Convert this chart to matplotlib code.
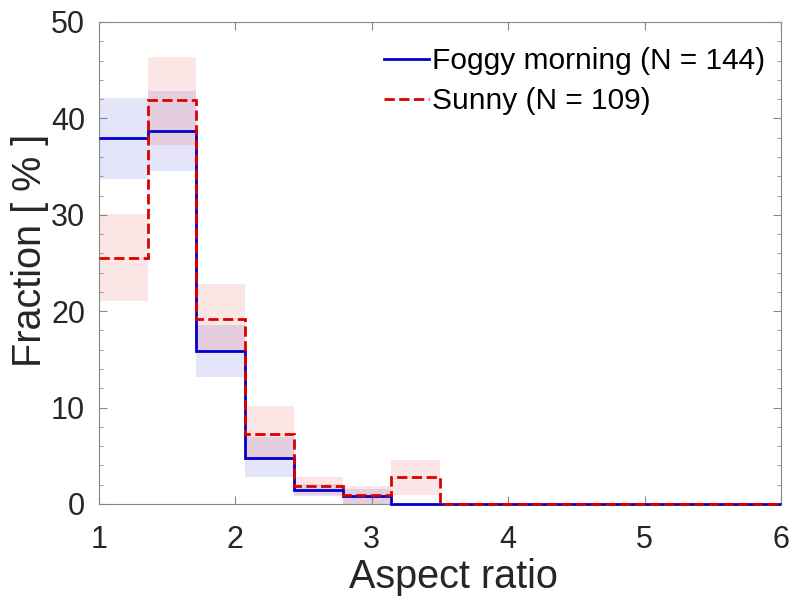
import numpy as np
import matplotlib.pyplot as plt

plt.rcParams['font.family'] = ['Liberation Sans', 'DejaVu Sans']

# bin edges of the aspect-ratio histogram (14 bins between 1 and 6)
edges = np.linspace(1, 6, 15)

# Foggy morning: fraction and shaded band
foggy = [38.0, 38.7, 15.9, 4.8, 1.45, 0.78, 0, 0, 0, 0, 0, 0, 0, 0]
foggy_hi = [42.1, 42.8, 18.6, 7.0, 2.1, 1.6, 0, 0, 0, 0, 0, 0, 0, 0]
foggy_lo = [33.7, 34.5, 13.2, 2.8, 0.8, 0, 0, 0, 0, 0, 0, 0, 0, 0]

# Sunny: fraction and shaded band
sunny = [25.5, 41.9, 19.2, 7.3, 1.87, 0.93, 2.77, 0, 0, 0, 0, 0, 0, 0]
sunny_hi = [30.1, 46.4, 22.8, 10.2, 2.8, 1.87, 4.56, 0, 0, 0, 0, 0, 0, 0]
sunny_lo = [21.1, 37.2, 15.7, 4.6, 0.9, 0, 0.93, 0, 0, 0, 0, 0, 0, 0]

blue = '#0000cc'
red = '#dd0000'
txt = '#262626'

fig = plt.figure(figsize=(7.94, 5.99), dpi=100)
ax = fig.add_axes([0.1247, 0.1586, 0.859, 0.8047])

ax.stairs(foggy_hi, edges, baseline=foggy_lo, fill=True, color=blue, alpha=0.1, lw=0)
ax.stairs(sunny_hi, edges, baseline=sunny_lo, fill=True, color=red, alpha=0.1, lw=0)
ax.stairs(foggy, edges, baseline=None, color=blue, lw=2, zorder=3, clip_on=False,
          label='Foggy morning (N = 144)')
ax.stairs(sunny, edges, baseline=None, color=red, lw=2, ls='--', zorder=3, clip_on=False,
          label='Sunny (N = 109)')

ax.set_xlim(1, 6)
ax.set_ylim(0, 50)
ax.set_xticks([1, 2, 3, 4, 5, 6])
ax.set_yticks([0, 10, 20, 30, 40, 50])
ax.set_yticks(np.arange(0, 51, 2), minor=True)

for s in ax.spines.values():
    s.set_color('#888888')
ax.tick_params(which='both', direction='in', top=True, right=True, colors='#888888',
               labelcolor=txt, labelsize=22)
ax.tick_params(which='major', length=6)
ax.tick_params(which='minor', length=3)
ax.tick_params(axis='x', pad=15)
ax.tick_params(axis='y', pad=10)

ax.set_xlabel('Aspect ratio', fontsize=28.5, color=txt)
ax.set_ylabel('Fraction [ % ]', fontsize=28.5, color=txt)
ax.xaxis.set_label_coords(0.52, -0.112)
ax.yaxis.set_label_coords(-0.074, 0.527)

ax.legend(loc='upper right', bbox_to_anchor=(0.977, 0.948), frameon=False,
          fontsize=21.5, handlelength=1.5, handletextpad=0.1, borderaxespad=0,
          borderpad=0, labelspacing=0.4)

fig.savefig('out.png', dpi=100)
